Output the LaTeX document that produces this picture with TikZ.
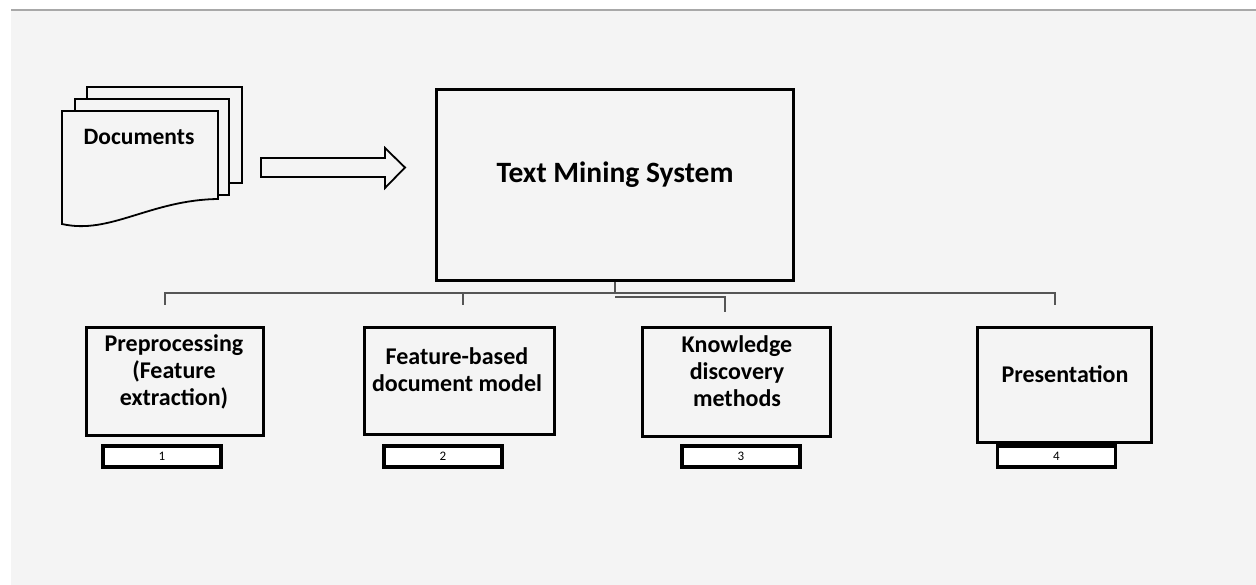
\documentclass[tikz,border=0pt]{standalone}
\usepackage{fontspec}
\setmainfont{Carlito}
\usetikzlibrary{calc}
\definecolor{paper}{RGB}{244,244,244}
\definecolor{rulegray}{RGB}{168,168,168}
\definecolor{wiregray}{RGB}{85,85,85}

\begin{document}
\begin{tikzpicture}[x=1pt, y=-1pt,
        box/.style={draw, line width=3.5pt, fill=paper, inner sep=0pt},
        tag/.style={draw, line width=3.5pt, fill=white, minimum width=118pt, minimum height=21pt, inner sep=0pt, font=\fontsize{13}{14}\selectfont},
        boxtext/.style={align=center, font=\bfseries\fontsize{24}{27}\selectfont},
        sheet/.style={draw, line width=1.8pt, fill=paper},
        wire/.style={draw=wiregray, line width=1.6pt}]
            \useasboundingbox (0,0) rectangle (1256,585);
            \fill[paper] (11,9) rectangle (1256,585);
            \draw[rulegray, line width=2pt] (11,10) -- (1256,10);
            \draw[sheet] (87,87) rectangle (242,183);
            \draw[sheet] (75,99) rectangle (229,195);
            \draw[sheet] (62,111) -- (218,111) -- (218,199) .. controls (150,200) and (110,235) .. (62,224) -- cycle;
            \node[font=\bfseries\fontsize{23.5}{26}\selectfont] (docs) at (139,137) {Documents};
            \draw[sheet] (261,158) -- (385,158) -- (385,148) -- (405,167.5) -- (385,188) -- (385,177) -- (261,177) -- cycle;
            \node[box, minimum width=357pt, minimum height=191pt] (tms) at (615,185) {};
            \node[font=\bfseries\fontsize{29.5}{32}\selectfont] (tmstext) at (615,175) {Text Mining System};
            \node[box, minimum width=177pt, minimum height=108pt] (pre) at (175,381.5) {};
            \node[box, minimum width=190pt, minimum height=107pt] (feat) at (459.5,381) {};
            \node[box, minimum width=188pt, minimum height=109pt] (know) at (736.5,382) {};
            \node[box, minimum width=174pt, minimum height=115pt] (pres) at (1064.5,385) {};
            \node[boxtext] (pretext) at (174,371.5) {Preprocessing\\(Feature\\extraction)};
            \node[boxtext] (feattext) at (457,370) {Feature-based\\document model};
            \node[boxtext] (knowtext) at (737,371.5) {Knowledge\\discovery\\methods};
            \node[boxtext] (prestext) at (1065,374) {Presentation};
            \foreach \n/\cx/\num in {pre/162/1, feat/443/2, know/741/3, pres/1056.5/4}
                \node[tag] (\n tag) at (\cx,456.5) {\num};
            \coordinate (bus) at (615,293);
            \coordinate (bus3) at (615,297);
            \coordinate (d1) at (165,305);
            \coordinate (d2) at (463,305);
            \coordinate (d3) at (725,312);
            \coordinate (d4) at (1055,305);
            \draw[wire] (tms.south) -- (bus);
            \foreach \d in {d1, d2, d4}
                \draw[wire] (bus) -| (\d);
            \draw[wire] (bus3) -| (d3);
        \end{tikzpicture}
\end{document}
